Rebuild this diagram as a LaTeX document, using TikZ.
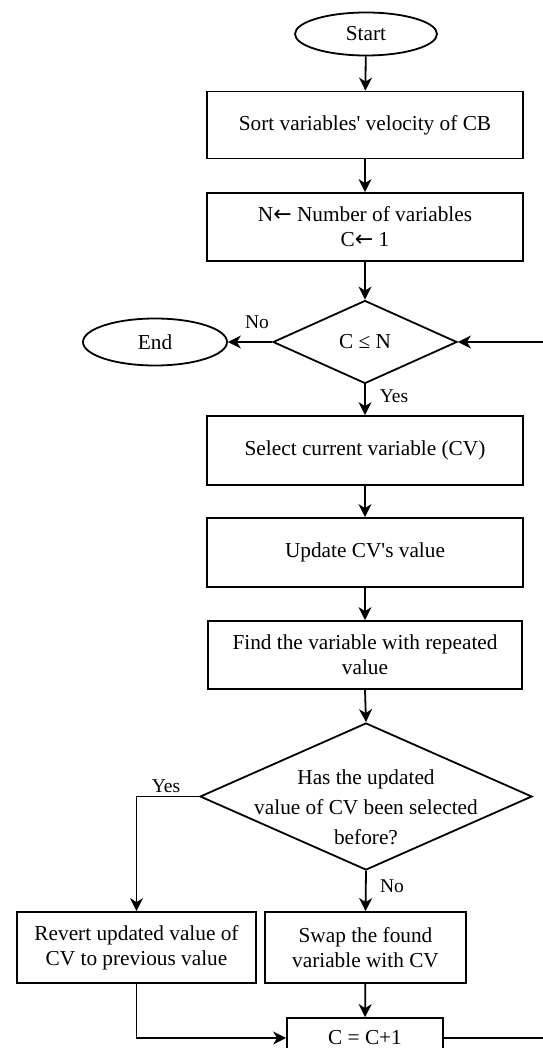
\documentclass[tikz,border=0pt]{standalone}
\usepackage{fontspec}
\setmainfont{Liberation Serif}
\newfontfamily\arrowfont{DejaVu Sans}
\usetikzlibrary{shapes.geometric,arrows.meta}
\newcommand{\apos}{\textquotesingle}
\newcommand{\assign}{{\arrowfont\fontsize{22}{25}\selectfont ←}}
\tikzset{
  base/.style={draw=black, line width=1.8pt, inner sep=0pt, font=\fontsize{21.3}{25}\selectfont, align=center},
  procbox/.style={base, rectangle},
  term/.style={base, ellipse},
  decision/.style={base, diamond},
  txt/.style={inner sep=0pt, font=\fontsize{21.3}{25}\selectfont, align=center},
  lbl/.style={inner sep=0pt, font=\fontsize{19.5}{22}\selectfont},
  flow/.style={line width=1.8pt, -{Stealth[length=13pt,width=13pt,inset=4pt]}},
}
\begin{document}
\begin{tikzpicture}[x=1pt,y=-1pt]
\useasboundingbox[fill=white] (0,0) rectangle (542,1048);

% terminals
\node[term, minimum width=142pt, minimum height=43pt] (start) at (366,34) {Start};
\node[term, minimum width=144pt, minimum height=47pt] (end) at (155,342) {End};

% main column of steps
\node[procbox, minimum width=316pt, minimum height=67pt] (sort) at (365,125) {Sort variables\apos{} velocity of CB};
\node[procbox, minimum width=316pt, minimum height=68pt] (init) at (365,227) {N\assign{} Number of variables\\C\assign{} 1};
\node[decision, minimum width=184pt, minimum height=83pt] (cond) at (365,342) {C ≤ N};
\node[procbox, minimum width=316pt, minimum height=69pt] (sel) at (365,450.5) {Select current variable (CV)};
\node[procbox, minimum width=316pt, minimum height=69pt] (upd) at (365,552.5) {Update CV\apos{}s value};
\node[procbox, minimum width=314pt, minimum height=68pt] (find) at (365,655) {Find the variable with repeated\\value};
\node[decision, minimum width=332pt, minimum height=147pt] (seen) at (366,796.5) {};
\node[txt, font=\fontsize{21.3}{30}\selectfont] (seentxt) at (366,807) {Has the updated\\value of CV been selected\\before?};

% branch results
\node[procbox, minimum width=239pt, minimum height=71pt] (revert) at (136.5,947.5) {Revert updated value of\\CV to previous value};
\node[procbox, minimum width=201pt, minimum height=71pt] (swap) at (365.5,947.5) {Swap the found\\variable with CV};
\node[procbox, minimum width=156pt, minimum height=40pt] (inc) at (365,1038) {C = C+1};

% connectors
\draw[flow] (start) -- (sort);
\draw[flow] (sort) -- (init);
\draw[flow] (init) -- (cond);
\draw[flow] (cond.west) -- (end.east);
\draw[flow] (cond.south) -- (sel.north);
\draw[flow] (sel) -- (upd);
\draw[flow] (upd) -- (find);
\draw[flow] (find.south) -- (seen.north);
\draw[flow] (seen.south) -- (swap.north);
\draw[flow] (seen.west) -| (revert.north);
\draw[flow] (swap) -- (inc);
\draw[flow] (revert.south) |- (inc.west);
\coordinate (loopc) at (548,1038);
\draw[flow] (inc.east) -- (loopc) |- (cond.east);

% branch labels
\node[lbl] (lno1) at (257,322) {No};
\node[lbl] (lyes1) at (394,396) {Yes};
\node[lbl] (lyes2) at (166,786) {Yes};
\node[lbl] (lno2) at (392,886) {No};
\end{tikzpicture}
\end{document}
